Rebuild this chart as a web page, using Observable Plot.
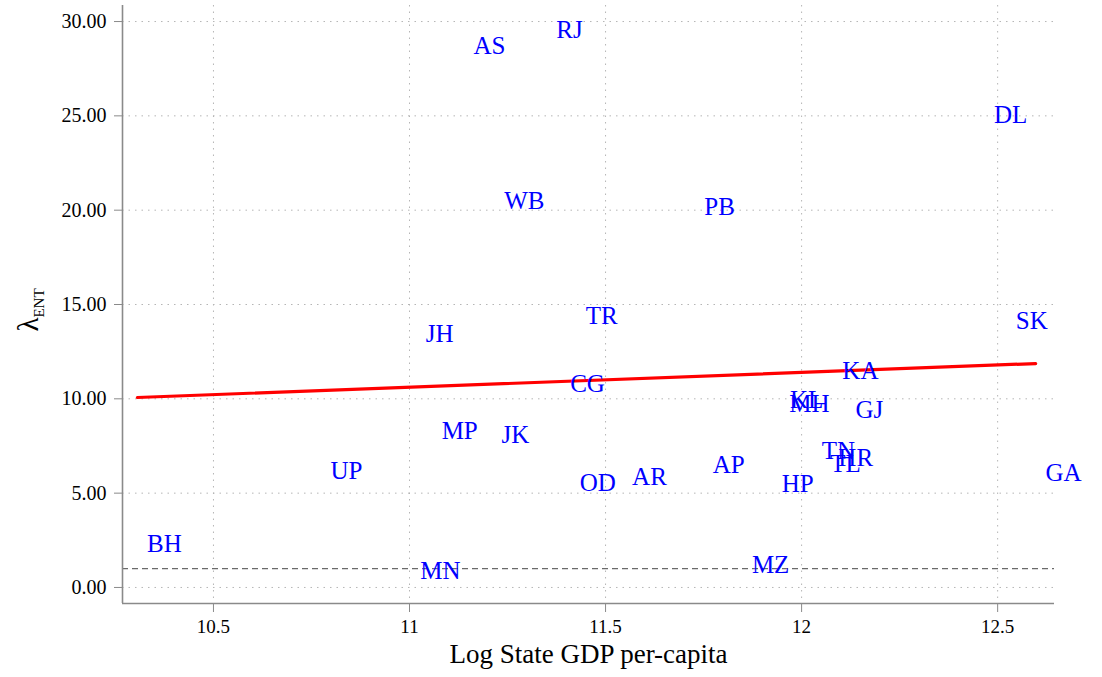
<!DOCTYPE html>
<html><head><meta charset="utf-8">
<script src="https://cdn.jsdelivr.net/npm/d3@7"></script>
<script src="https://cdn.jsdelivr.net/npm/@observablehq/plot@0.6"></script>
<style>body{margin:0;background:#fff}</style>
</head><body><div id="chart"></div>
<script>
const states    = ["RJ","AS","DL","WB","PB","TR","SK","JH","KA","CG","KL","MH","GJ","MP","JK","TN","TL","HR","UP","AP","GA","AR","OD","HP","BH","MZ","MN"];
const logGdp    = [11.408,11.204,12.533,11.293,11.791,11.490,12.587,11.077,12.150,11.454,12.013,12.020,12.173,11.128,11.270,12.094,12.112,12.138,10.839,11.814,12.668,11.612,11.480,11.990,10.375,11.921,11.079];
const lambdaEnt = [29.57,28.72,25.07,20.51,20.19,14.41,14.15,13.46,11.50,10.81,9.96,9.75,9.43,8.32,8.06,7.21,6.52,6.84,6.15,6.47,6.09,5.88,5.56,5.46,2.33,1.17,0.85];
const fitX = [10.306, 12.597];
const fitY = [10.07, 11.87];
const xTicks = [10.5, 11, 11.5, 12, 12.5];
const yTicks = [0, 5, 10, 15, 20, 25, 30];
const refLevel = [1];
const xDomain = [10.268, 12.645];
const yDomain = [-0.85, 30.85];

const data = states.map((s, i) => ({state: s, x: logGdp[i], y: lambdaEnt[i]}));
const fit = fitX.map((x, i) => ({x, y: fitY[i]}));

const axisColor = "#8a8a8a";
const plot = Plot.plot({
  width: 1102, height: 677,
  marginLeft: 122, marginRight: 48, marginTop: 5, marginBottom: 74,
  style: {fontFamily: "Liberation Serif", fontSize: "20px", background: "#fff", color: "#000", overflow: "visible"},
  x: {domain: xDomain, label: null},
  y: {domain: yDomain, label: null},
  marks: [
    Plot.gridX(xTicks, {stroke: "#b5b5b5", strokeOpacity: 1, strokeDasharray: "1.5,5"}),
    Plot.gridY(yTicks, {stroke: "#b5b5b5", strokeOpacity: 1, strokeDasharray: "1.5,5"}),
    Plot.ruleY(refLevel, {stroke: "#6a6a6a", strokeWidth: 1.4, strokeDasharray: "6,4"}),
    Plot.line(fit, {x: "x", y: "y", stroke: "#ff0000", strokeWidth: 3.2}),
    Plot.text(data, {x: "x", y: "y", text: "state", fill: "#0000ff", fontSize: 25, fontFamily: "Liberation Serif", clip: false}),
    Plot.axisX(xTicks, {tickSize: 9, tickPadding: 7, stroke: axisColor, tickFormat: d => String(d), label: null, fontSize: 19}),
    Plot.axisY(yTicks, {tickSize: 8, tickPadding: 8, stroke: axisColor, tickFormat: d => d.toFixed(2), label: null, fontSize: 20}),
    Plot.ruleX([xDomain[0]], {stroke: axisColor, strokeWidth: 1.6}),
    Plot.ruleY([yDomain[0]], {stroke: axisColor, strokeWidth: 1.6}),
    Plot.text(["Log State GDP per-capita"], {frameAnchor: "bottom", dy: 59, fontSize: 27, fontFamily: "Liberation Serif", fill: "#000"})
  ]
});
document.getElementById("chart").appendChild(plot);

// y-axis title: lambda with subscript ENT
const svg = d3.select(plot);
const t = svg.append("text")
  .attr("transform", "translate(38,310) rotate(-90)")
  .attr("text-anchor", "middle")
  .attr("font-family", "Liberation Serif")
  .attr("fill", "#000");
t.append("tspan").attr("font-size", 29).text("λ");
t.append("tspan").attr("font-size", 15).attr("dy", 6).text("ENT");
</script>
</body></html>
